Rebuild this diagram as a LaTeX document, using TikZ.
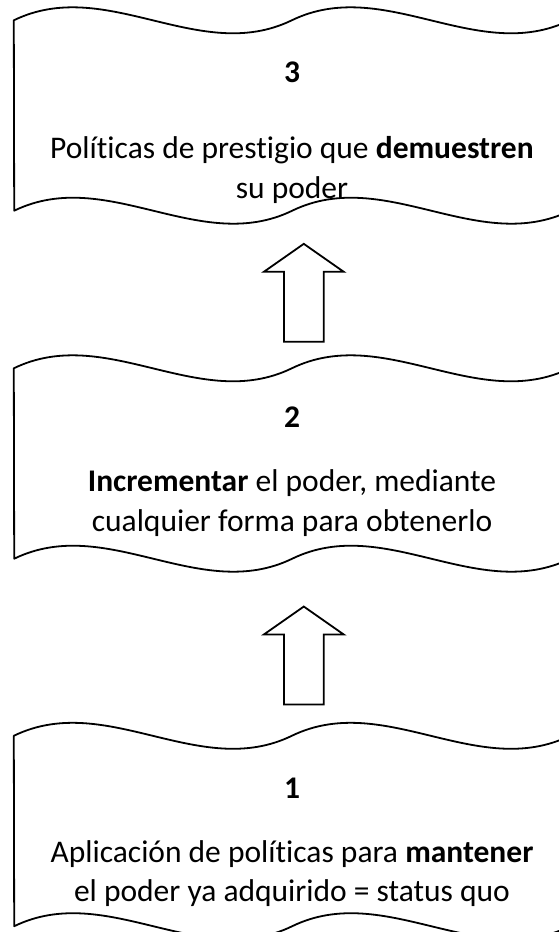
\documentclass[tikz,border=0pt]{standalone}
\usepackage{fontspec}
\setmainfont[Ligatures=NoCommon]{Carlito}
\usetikzlibrary{shapes.arrows}

\tikzstyle{tapebox} = [rectangle, minimum width=556pt, minimum height=190pt, inner sep=0pt]
\tikzstyle{tapeline} = [line width=1.8pt, line join=round]
\tikzstyle{numtext} = [font=\fontsize{31.5}{39.5}\selectfont\bfseries]
\tikzstyle{bodytext} = [align=center, font=\fontsize{31.5}{39.5}\selectfont]
\tikzstyle{uparrow} = [single arrow, draw, line width=1.8pt, fill=white, shape border rotate=90, minimum height=98pt, minimum width=78pt, single arrow head extend=20pt, single arrow tip angle=110, inner sep=19pt]

% wavy outline of a tape box
\newcommand{\tapeoutline}[1]{%
  \draw [tapeline] (#1.north west)
    .. controls +(92.7,45) and +(-92.7,-45) .. ++(278,0)
    .. controls +(92.7,45) and +(-92.7,-45) .. ++(278,0)
    -- (#1.south east)
    .. controls +(-92.7,-45) and +(92.7,45) .. ++(-278,0)
    .. controls +(-92.7,-45) and +(92.7,45) .. ++(-278,0)
    -- cycle;}

\begin{document}
\begin{tikzpicture}[x=1pt, y=1pt, node distance=348pt]
	\useasboundingbox (0,0) rectangle (558,-932);

	\node (box3) [tapebox] at (292,-115.5) {};
	\node (box2) [tapebox, below of=box3] {};
	\node (box1) [tapebox, below of=box2, yshift=-19.5pt] {};
	\tapeoutline{box3}
	\tapeoutline{box2}
	\tapeoutline{box1}

	\node (num3) [numtext] at (292,-72) {3};
	\node (txt3) [bodytext] at (292,-170) {Políticas de prestigio que \textbf{demuestren}\\su poder};
	\node (num2) [numtext] at (292,-417) {2};
	\node (txt2) [bodytext] at (292,-503) {\textbf{Incrementar} el poder, mediante\\cualquier forma para obtenerlo};
	\node (num1) [numtext] at (292,-788) {1};
	\node (txt1) [bodytext] at (292,-873.5) {Aplicación de políticas para \textbf{mantener}\\el poder ya adquirido = status quo};

	\node (arrow1) [uparrow] at (303.8,-299.8) {};
	\node (arrow2) [uparrow] at (303.8,-662.5) {};
\end{tikzpicture}
\end{document}
